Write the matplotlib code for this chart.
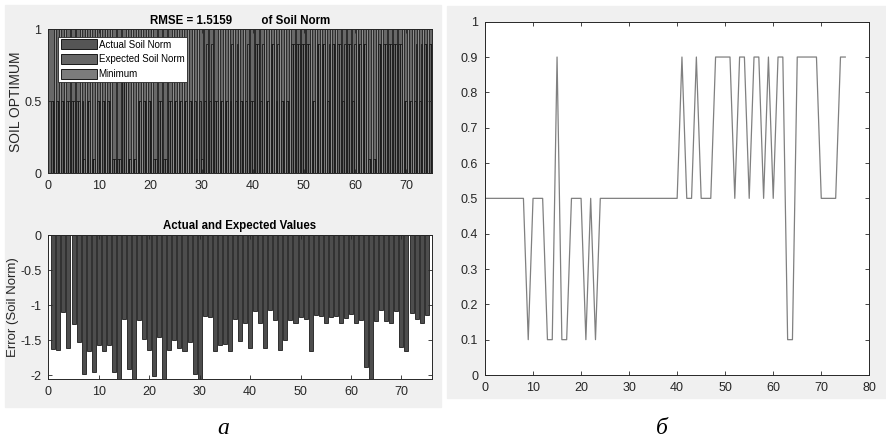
import matplotlib.pyplot as plt
import numpy as np
from matplotlib.patches import Rectangle

# soil norm series (panel б), x = 0..75
soil_x = list(range(0, 76))
soil_norm = [
    0.5, 0.5, 0.5, 0.5, 0.5, 0.5, 0.5, 0.5, 0.5, 0.1,
    0.5, 0.5, 0.5, 0.1, 0.1, 0.9, 0.1, 0.1, 0.5, 0.5,
    0.5, 0.1, 0.5, 0.1, 0.5, 0.5, 0.5, 0.5, 0.5, 0.5,
    0.5, 0.5, 0.5, 0.5, 0.5, 0.5, 0.5, 0.5, 0.5, 0.5,
    0.5, 0.9, 0.5, 0.5, 0.9, 0.5, 0.5, 0.5, 0.9, 0.9,
    0.9, 0.9, 0.5, 0.9, 0.9, 0.5, 0.9, 0.9, 0.5, 0.9,
    0.5, 0.9, 0.9, 0.1, 0.1, 0.9, 0.9, 0.9, 0.9, 0.9,
    0.5, 0.5, 0.5, 0.5, 0.9, 0.9,
]

# grouped bars (panel а, top), x = 1..75
bar_x = list(range(1, 76))
actual_norm = soil_norm[1:]
expected_norm = [
    0.5, 0.5, 0.5, 0.5, 0.5, 0.5, 0.1, 0.5, 0.1, 0.5,
    0.5, 0.5, 0.1, 0.1, 0.9, 0.1, 0.1, 0.5, 0.5, 0.5,
    0.1, 0.5, 0.1, 0.5, 0.5, 0.5, 0.5, 0.5, 0.1, 0.1,
    0.9, 0.9, 0.5, 0.5, 0.5, 0.9, 0.9, 0.5, 0.9, 0.5,
    0.9, 0.9, 0.5, 0.9, 0.9, 0.5, 0.5, 0.9, 0.9, 0.9,
    0.9, 0.5, 0.9, 0.9, 0.9, 0.9, 0.9, 0.9, 0.9, 0.9,
    0.9, 0.9, 0.1, 0.1, 0.9, 0.9, 0.9, 0.9, 0.9, 0.5,
    0.5, 0.9, 0.9, 0.9, 0.9,
]
minimum_norm = [
    1, 1, 1, 1, 1, 1, 1, 1, 1, 1, 1, 1, 1, 1, 1, 1, 1, 1, 1, 1,
    1, 1, 1, 1, 1, 1, 1, 1, 1, 1, 1, 1, 1, 1, 1, 1, 1, 1, 1, 1,
    1, 1, 1, 1, 1, 1, 1, 1, 1, 1, 1, 1, 1, 1, 1, 1, 1, 1, 1, 1,
    1, 1, 1, 1, 1, 1, 1, 1, 1, 1, 1, 1, 1, 1, 1,
]

# error bars (panel а, bottom), x = 1..75
error_vals = [
    -1.63, -1.64, -1.10, -1.62, -1.27, -1.53, -1.99, -1.66, -1.96, -1.57,
    -1.65, -1.57, -1.95, -2.10, -1.20, -1.92, -2.10, -1.22, -1.49, -1.64,
    -2.01, -1.46, -2.10, -1.64, -1.50, -1.61, -1.66, -1.53, -1.99, -2.10,
    -1.15, -1.17, -1.66, -1.57, -1.55, -1.66, -1.20, -1.52, -1.25, -1.61,
    -1.09, -1.25, -1.62, -1.07, -1.22, -1.64, -1.50, -1.21, -1.26, -1.17,
    -1.20, -1.65, -1.14, -1.16, -1.26, -1.17, -1.16, -1.26, -1.19, -1.13,
    -1.26, -1.21, -1.89, -2.10, -1.23, -1.07, -1.23, -1.25, -1.08, -1.60,
    -1.65, -1.12, -1.20, -1.26, -1.14,
]

W, H = 887, 446
FONT = "Liberation Sans"
AX_COLOR = "#262626"

plt.rcParams["font.family"] = FONT


def px_axes(fig, left, top, right, bottom):
    ax = fig.add_axes([left / W, 1 - bottom / H, (right - left) / W, (bottom - top) / H])
    ax.set_zorder(2)
    return ax


def matlab_style(ax):
    ax.tick_params(direction="in", top=True, right=True, length=3, width=0.6,
                   labelsize=9, colors=AX_COLOR, pad=5)
    for s in ax.spines.values():
        s.set_linewidth(0.7)
        s.set_color(AX_COLOR)


fig = plt.figure(figsize=(W / 100, H / 100), dpi=100, facecolor="white")
fig.patches.append(Rectangle((5 / W, 1 - 407 / H), 436 / W, 402 / H,
                             transform=fig.transFigure, color="#f0f0f0", zorder=-5))
fig.patches.append(Rectangle((447 / W, 1 - 398 / H), 440 / W, 392 / H,
                             transform=fig.transFigure, color="#f0f0f0", zorder=-5))

# top-left: grouped bars
ax1 = px_axes(fig, 48.3, 29.3, 431.7, 173.3)
ax1.set_facecolor("#686868")
xs = np.array(bar_x)
bw = 1 / 3
ax1.bar(xs - bw, actual_norm, bw, color="#606060", edgecolor="black", linewidth=0.45,
        label="Actual Soil Norm")
ax1.bar(xs, expected_norm, bw, color="#767676", edgecolor="black", linewidth=0.45,
        label="Expected Soil Norm")
ax1.bar(xs + bw, minimum_norm, bw, color="#8e8e8e", edgecolor="black", linewidth=0.45,
        label="Minimum")
ax1.set_xlim(0, 75)
ax1.set_ylim(0, 1)
ax1.set_xticks(range(0, 71, 10))
ax1.set_yticks([0, 0.5, 1])
ax1.set_yticklabels(["0", "0.5", "1"])
ax1.set_ylabel("SOIL OPTIMUM", fontsize=10, color=AX_COLOR, labelpad=1)
ax1.set_title("RMSE = 1.5159         of Soil Norm", fontsize=8.3, fontweight="bold",
              color="black", pad=4)
matlab_style(ax1)
leg = ax1.legend(loc="upper left", bbox_to_anchor=(0.026, 0.95), fontsize=7,
                 frameon=True, fancybox=False, edgecolor="#262626", framealpha=1,
                 handlelength=3.7, handleheight=1.2, borderpad=0.3,
                 labelspacing=0.45, handletextpad=0.15, borderaxespad=0)
leg.get_frame().set_linewidth(0.6)
for patch, col in zip(leg.get_patches(), ["#555555", "#666666", "#7c7c7c"]):
    patch.set_facecolor(col)
    patch.set_edgecolor("black")
    patch.set_linewidth(0.6)

# bottom-left: error bars
ax2 = px_axes(fig, 48.3, 235, 431.7, 379.3)
ax2.bar(bar_x, error_vals, 0.8, color="#4d4d4d", edgecolor="black", linewidth=0.5)
ax2.set_xlim(0, 76)
ax2.set_ylim(-2.06, 0)
ax2.set_xticks(range(0, 71, 10))
ax2.set_yticks([-2, -1.5, -1, -0.5, 0])
ax2.set_yticklabels(["-2", "-1.5", "-1", "-0.5", "0"])
ax2.set_ylabel("Error (Soil Norm)", fontsize=9.5, color=AX_COLOR, labelpad=1)
ax2.set_title("Actual and Expected Values", fontsize=8.3, fontweight="bold",
              color="black", pad=4)
matlab_style(ax2)

# right: line plot
ax3 = px_axes(fig, 485, 21.7, 869.3, 375)
ax3.plot(soil_x, soil_norm, color="#808080", linewidth=0.9)
ax3.set_xlim(0, 80)
ax3.set_ylim(0, 1)
ax3.set_xticks(range(0, 81, 10))
ax3.set_yticks(np.round(np.arange(0, 1.01, 0.1), 1))
ax3.set_yticklabels(["0", "0.1", "0.2", "0.3", "0.4", "0.5", "0.6", "0.7", "0.8", "0.9", "1"])
matlab_style(ax3)

fig.text(223 / W, 1 - 428 / H, "а", fontsize=17, style="italic",
         family="Liberation Serif", ha="center", va="center")
fig.text(662 / W, 1 - 428 / H, "б", fontsize=17, style="italic",
         family="Liberation Serif", ha="center", va="center")

fig.savefig("out.png", dpi=100, facecolor="white")
